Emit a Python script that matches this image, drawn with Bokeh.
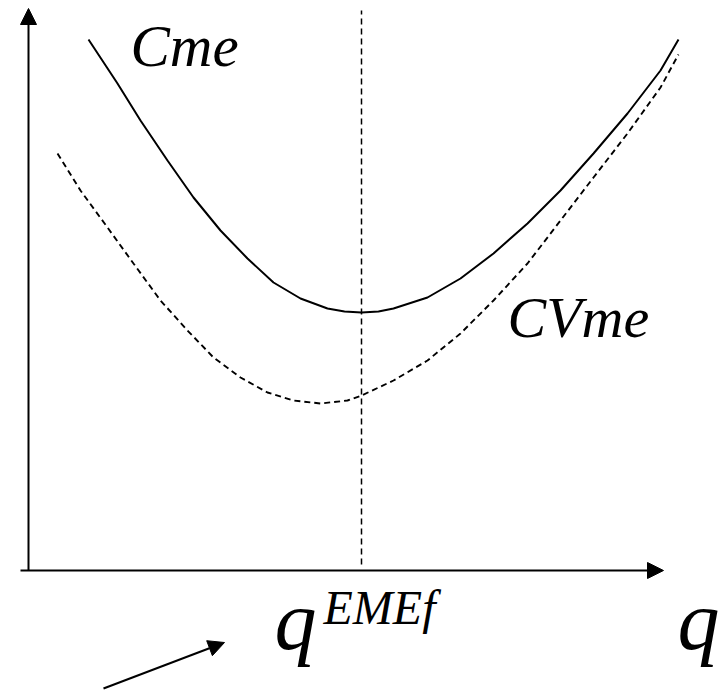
from bokeh.plotting import figure
from bokeh.models import Range1d, Arrow, NormalHead
from bokeh.core.properties import value
from bokeh.embed import file_html
from bokeh.resources import INLINE

# Chart units: q to the right of the origin, cost above the origin (origin = axes crossing)
cme_q = [60, 89, 112, 139, 165, 192, 219, 245, 272, 299, 316, 333, 350, 365, 399, 432, 465, 499, 532, 565, 599, 632, 650]
cme_c = [531, 487, 450, 410, 373, 340, 312, 288, 272, 262, 259, 258, 259, 262, 273, 292, 317, 347, 380, 417, 457, 500, 531]

cvme_q = [29, 52, 79, 105, 132, 159, 185, 212, 239, 265, 292, 319, 333, 365, 399, 432, 465, 499, 532, 565, 599, 632, 650]
cvme_c = [417, 380, 343, 307, 270, 240, 213, 193, 178, 170, 167, 170, 175, 190, 210, 237, 270, 307, 350, 393, 437, 483, 516]

q_eff = 333          # efficient scale
y_top = 562
x_right = 635

label_text = ["Cme", "CVme", "q", "q"]
label_q = [102, 479, 246, 649]
label_c = [525, 253, -50, -50]
label_size = ["59px", "58px", "84px", "84px"]

sup_text = ["EMEf"]
sup_q = [295]
sup_c = [-37]

pointer_q = [75, 196]
pointer_c = [-118, -72]

p = figure(width=720, height=690, output_backend="svg", toolbar_location=None,
           x_range=Range1d(-28, 692), y_range=Range1d(-120, 570),
           min_border=0, outline_line_color=None)
p.axis.visible = False
p.grid.visible = False
p.background_fill_color = "white"
p.border_fill_color = "white"

# curves
p.line(cme_q, cme_c, line_color="black", line_width=2)
p.line(cvme_q, cvme_c, line_color="black", line_width=1.9, line_dash="6 4")

# vertical dashed at efficient scale
p.line([q_eff, q_eff], [6, 560], line_color="black", line_width=1.5, line_dash="6 4")

# axes with arrows
head_kw = dict(size=16, fill_color="black", line_color="black")
p.add_layout(Arrow(end=NormalHead(**head_kw),
                   x_start=0, y_start=0, x_end=0, y_end=y_top,
                   line_color="black", line_width=2))
p.add_layout(Arrow(end=NormalHead(**head_kw),
                   x_start=-8, y_start=0, x_end=x_right, y_end=0,
                   line_color="black", line_width=2))

# pointer arrow
p.add_layout(Arrow(end=NormalHead(**head_kw),
                   x_start=pointer_q[0], y_start=pointer_c[0],
                   x_end=pointer_q[1], y_end=pointer_c[1],
                   line_color="black", line_width=2))

for t, xq, yc, s in zip(label_text, label_q, label_c, label_size):
    p.text([xq], [yc], text=[t], text_font=value("Liberation Serif"),
           text_font_style="italic", text_font_size=s, text_color="black",
           text_align="left", text_baseline="alphabetic")

p.text(sup_q, sup_c, text=sup_text, text_font=value("Liberation Serif"),
       text_font_style="italic", text_font_size="48px", text_color="black",
       text_align="left", text_baseline="alphabetic")

open("out.html", "w").write(file_html(p, INLINE))
